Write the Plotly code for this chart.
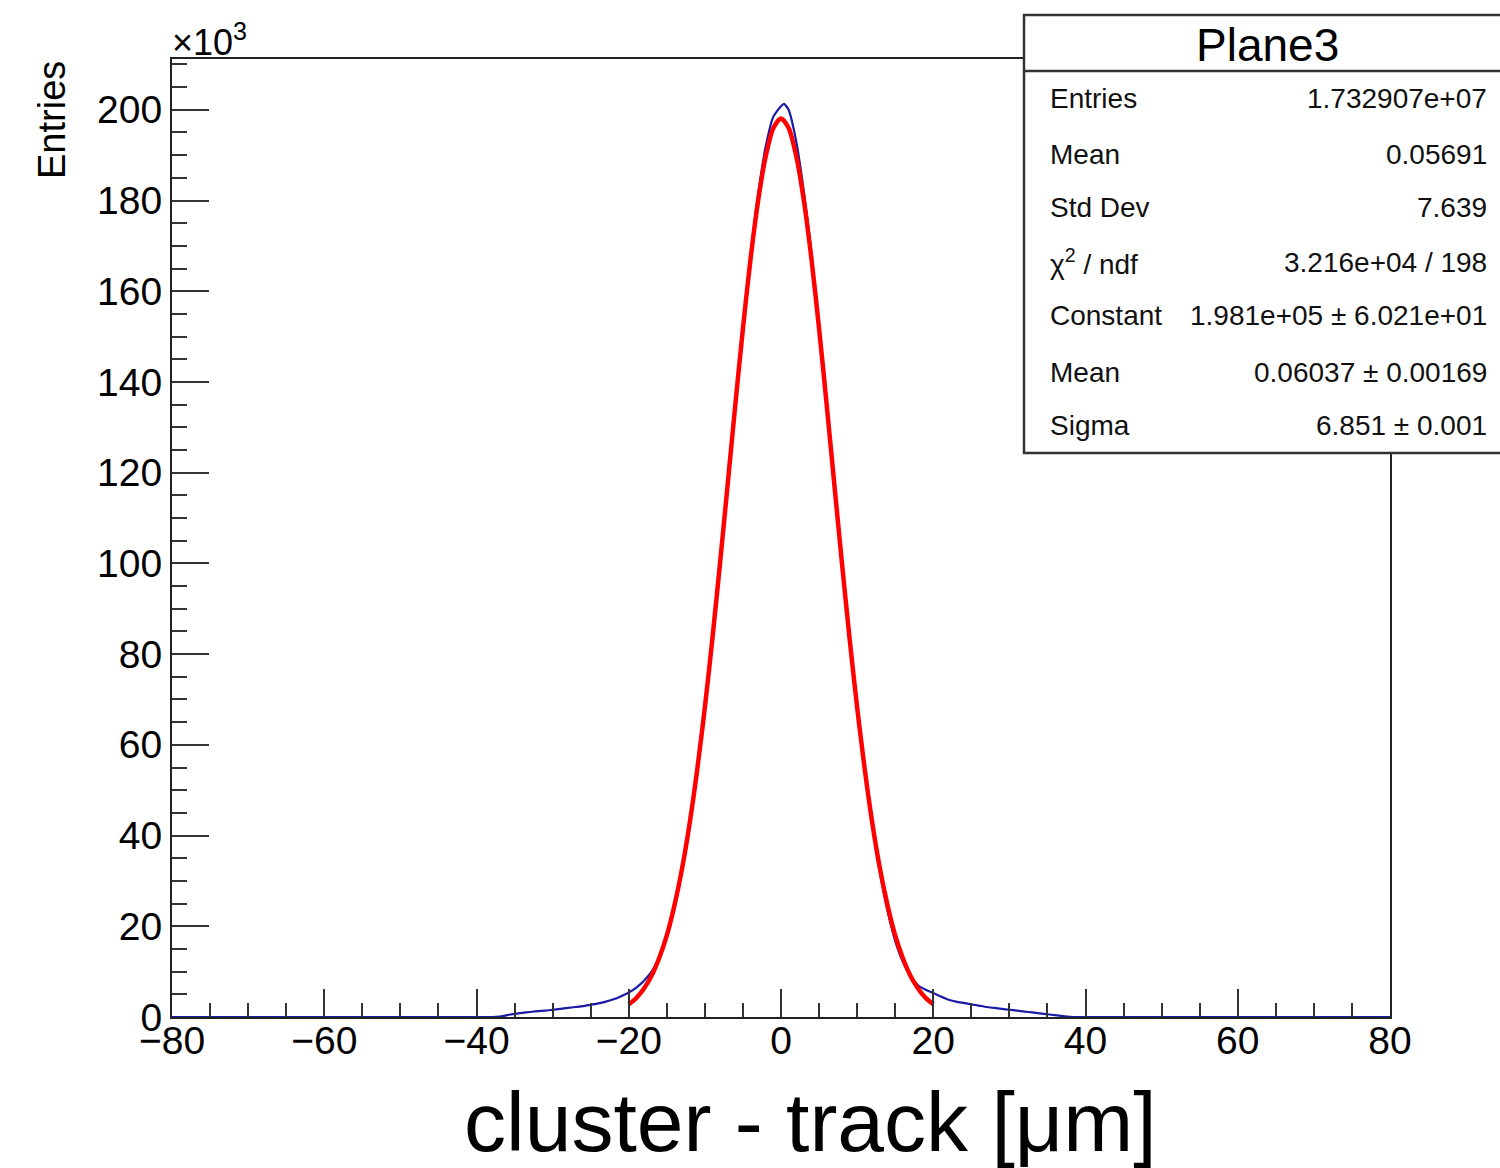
import plotly.graph_objects as go

# ---------------- data (values in units of 10^3 entries) ----------------
hist_x = [-80, -45, -40, -39, -38, -37, -36, -35, -34, -33, -32, -31, -30, -29, -28, -27, -26,
          -25, -24, -23, -22, -21, -20, -19, -18, -17, -16, -15, -14, -13, -12, -11,
          -10, -9, -8, -7, -6, -5, -4, -3, -2, -1, 0, 0.4, 1, 2, 3, 4, 5, 6, 7, 8, 9,
          10, 11, 12, 13, 14, 15, 16, 17, 18, 19, 20, 21, 22, 23, 24, 25, 26, 27,
          28, 29, 30, 31, 32, 33, 34, 35, 36, 37, 38, 39, 40, 45, 80]
hist_y = [0, 0, 0, 0, 0, 0.1, 0.4, 0.7, 0.9, 1.1, 1.3, 1.4, 1.6, 1.8, 2.0, 2.2, 2.4,
          2.7, 3.0, 3.4, 3.9, 4.6, 5.4, 6.5, 8.0, 10.0, 13.2, 17.6, 24.0, 32.3, 42.6, 54.7,
          68.5, 83.8, 100.5, 118.0, 135.5, 152.5, 168.0, 181.5, 192.0, 198.5, 200.8, 201.3, 200.0,
          193.0, 182.0, 168.5, 152.8, 136.0, 118.3, 100.7, 83.8,
          68.5, 54.5, 42.2, 31.8, 23.3, 16.8, 12.2, 9.0, 7.0, 6.0, 5.3, 4.5, 3.8, 3.4, 3.1,
          2.8, 2.5, 2.2, 2.0, 1.8, 1.6, 1.4, 1.2, 1.0, 0.8, 0.6, 0.4, 0.2, 0.05, 0, 0, 0, 0]

fit_x = [-20, -19, -18, -17, -16, -15, -14, -13, -12, -11, -10, -9, -8, -7, -6, -5, -4, -3,
         -2, -1, 0, 1, 2, 3, 4, 5, 6, 7, 8, 9, 10, 11, 12, 13, 14, 15, 16, 17, 18, 19, 20]
fit_y = [2.8, 4.2, 6.3, 9.1, 13.0, 18.0, 24.6, 32.7, 42.7, 54.6, 68.3, 83.6, 100.2, 117.5,
         135.0, 151.8, 167.1, 180.0, 189.8, 196.0, 198.1, 196.0, 189.8, 180.0, 167.1, 151.8,
         135.0, 117.5, 100.2, 83.6, 68.3, 54.6, 42.7, 32.7, 24.6, 18.0, 13.0, 9.1, 6.3, 4.2, 2.8]

x_ticks = [-80, -60, -40, -20, 0, 20, 40, 60, 80]
y_ticks = [0, 20, 40, 60, 80, 100, 120, 140, 160, 180, 200]

stats_title = "Plane3"
stats_labels = ["Entries", "Mean", "Std Dev", "χ<sup>2</sup> / ndf", "Constant", "Mean", "Sigma"]
stats_values = ["1.732907e+07", "0.05691", "7.639", "3.216e+04 / 198",
                "1.981e+05 ± 6.021e+01", "0.06037 ± 0.00169", "6.851 ± 0.001"]

# ---------------- layout geometry ----------------
W, H = 1500, 1168
L, R, T, B = 172, 1390, 59, 1017
FONT = "Liberation Sans, Arial, sans-serif"


def px(xp):
    return (xp - L) / (R - L)


def py(yp):
    return (B - yp) / (B - T)


fig = go.Figure()
fig.add_trace(go.Scatter(x=hist_x, y=hist_y, mode="lines",
                         line=dict(color="#1a1aa6", width=2.2, shape="spline", smoothing=0.6),
                         hoverinfo="skip", showlegend=False))
fig.add_trace(go.Scatter(x=fit_x, y=fit_y, mode="lines",
                         line=dict(color="#ff0000", width=4.5, shape="spline", smoothing=0.8),
                         hoverinfo="skip", showlegend=False))

fig.update_layout(
    width=W, height=H,
    margin=dict(l=L, r=W - R, t=T, b=H - B),
    paper_bgcolor="white", plot_bgcolor="white",
    font=dict(family=FONT, color="black"),
    showlegend=False,
)
fig.update_xaxes(
    range=[-80, 80], tickvals=x_ticks, ticktext=[("\u2212%d" % -v) if v < 0 else str(v) for v in x_ticks],
    ticks="inside", ticklen=28, tickwidth=2, tickcolor="#333",
    minor=dict(dtick=5, tick0=0, ticks="inside", ticklen=14, tickwidth=2, tickcolor="#333", showgrid=False),
    showline=True, linecolor="#222", linewidth=2, mirror=True,
    showgrid=False, zeroline=False,
    ticklabelstandoff=-12,
    tickfont=dict(size=39, family=FONT, color="black"),
)
fig.update_yaxes(
    range=[0, 211.2], tickvals=y_ticks, ticktext=[str(v) for v in y_ticks],
    ticks="inside", ticklen=37, tickwidth=2, tickcolor="#333",
    minor=dict(dtick=5, tick0=0, ticks="inside", ticklen=15, tickwidth=2, tickcolor="#333", showgrid=False),
    showline=True, linecolor="#222", linewidth=2, mirror=True,
    showgrid=False, zeroline=False,
    tickfont=dict(size=39, family=FONT, color="black"),
)

shapes = [
    dict(type="rect", xref="paper", yref="paper", x0=px(1024), x1=px(1515), y0=py(453), y1=py(15),
         line=dict(color="#333", width=2.5), fillcolor="white", layer="above"),
    dict(type="line", xref="paper", yref="paper", x0=px(1024), x1=px(1515), y0=py(71), y1=py(71),
         line=dict(color="#333", width=2.5), layer="above"),
]
fig.update_layout(shapes=shapes)

ann = []
ann.append(dict(text="×10<sup>3</sup>", xref="paper", yref="paper", x=px(170), y=py(40),
                xanchor="left", yanchor="middle", showarrow=False, font=dict(size=36, family=FONT)))
ann.append(dict(text="Entries", xref="paper", yref="paper", x=px(52), y=py(120), textangle=-90,
                xanchor="center", yanchor="middle", showarrow=False, font=dict(size=38, family=FONT)))
ann.append(dict(text="cluster - track [μm]", xref="paper", yref="paper", x=px(810), y=py(1122),
                xanchor="center", yanchor="middle", showarrow=False, font=dict(size=84, family=FONT)))
ann.append(dict(text=stats_title, xref="paper", yref="paper", x=px(1267), y=py(45),
                xanchor="center", yanchor="middle", showarrow=False, font=dict(size=46, family=FONT)))
row_y = [98, 154, 208, 262, 316, 372, 425]
for lab, val, yy in zip(stats_labels, stats_values, row_y):
    ann.append(dict(text=lab, xref="paper", yref="paper", x=px(1048), y=py(yy),
                    xanchor="left", yanchor="middle", showarrow=False,
                    font=dict(size=28, family=FONT, color="#111")))
    ann.append(dict(text=val, xref="paper", yref="paper", x=px(1489), y=py(yy),
                    xanchor="right", yanchor="middle", showarrow=False,
                    font=dict(size=28, family=FONT, color="#111")))
fig.update_layout(annotations=ann)

fig.write_html("out.html")
